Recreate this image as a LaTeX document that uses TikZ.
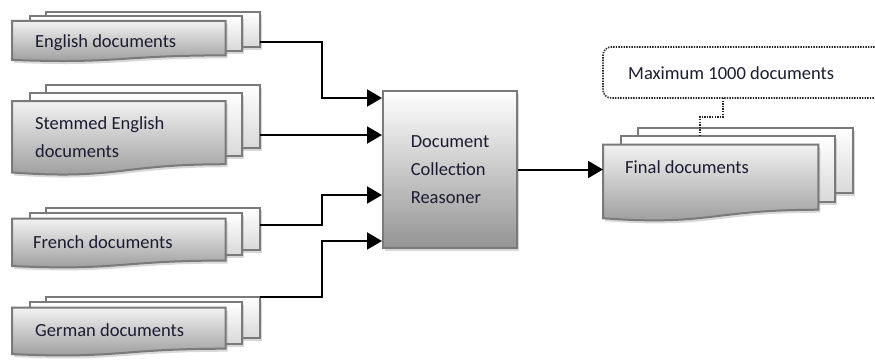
\documentclass[tikz,border=0pt]{standalone}
\usepackage{fontspec}
\setmainfont{Carlito}
\usetikzlibrary{shadows,arrows.meta,calc}
\definecolor{edgegray}{HTML}{7A7A7A}
\definecolor{txt}{HTML}{1C1C30}
\newcommand\lblfont{\fontsize{18.5}{28}\selectfont}
\tikzset{
  shad/.style={drop shadow={opacity=0.3, shadow xshift=2pt, shadow yshift=-3pt}},
  pageback/.style={draw=edgegray, line width=2pt, top color=white, bottom color=black!15, shad},
  pagefront/.style={draw=edgegray, line width=2pt, top color=black!5, bottom color=black!40, shad},
  procbox/.style={draw=edgegray, line width=2pt, top color=white, bottom color=black!42, shad,
    minimum width=134pt, minimum height=157pt, inner sep=0pt, align=left, font=\lblfont, text=txt},
  lbl/.style={font=\lblfont, text=txt, align=left, anchor=west, inner sep=0pt},
  conn/.style={draw=black, line width=2pt, -{Triangle[length=15pt,width=17pt]}},
  calloutbox/.style={draw=black!85, line width=1.6pt, dash pattern=on 1.4pt off 1.2pt, rounded corners=8pt},
  callline/.style={draw=black!85, line width=1.6pt, dash pattern=on 1.4pt off 1.2pt},
  anchorbox/.style={inner sep=0pt, outer sep=0pt, anchor=north west}
}
% #1 name, #2 x, #3 y, #4 W, #5 H
\newcommand\multidoc[5]{%
  \pgfmathsetmacro\bl{#2+0.138*#4}\pgfmathsetmacro\br{#2+#4}\pgfmathsetmacro\bb{#3+0.666*#5}%
  \pgfmathsetmacro\ml{#2+0.071*#4}\pgfmathsetmacro\mr{#2+0.926*#4}%
  \pgfmathsetmacro\mt{#3+0.084*#5}\pgfmathsetmacro\mb{#3+0.752*#5}%
  \pgfmathsetmacro\fr{#2+0.861*#4}\pgfmathsetmacro\ft{#3+0.170*#5}%
  \pgfmathsetmacro\frb{#3+0.834*#5}\pgfmathsetmacro\flb{#3+0.921*#5}%
  \pgfmathsetmacro\fm{#2+0.43*#4}\pgfmathsetmacro\fc{#3+1.0*#5}%
  \pgfmathsetmacro\bw{0.862*#4}\pgfmathsetmacro\bh{0.666*#5}%
  \pgfmathsetmacro\mw{0.855*#4}\pgfmathsetmacro\mh{0.668*#5}%
  \pgfmathsetmacro\fw{0.861*#4}\pgfmathsetmacro\fh{0.664*#5}%
  \path[pageback] (\bl,#3) rectangle (\br,\bb);
  \path[pageback] (\ml,\mt) rectangle (\mr,\mb);
  \path[pagefront] (#2,\ft) -- (\fr,\ft) -- (\fr,\frb)
     .. controls (\fm,\frb) and (\fm,\fc) .. (#2,\flb) -- cycle;
  \node[anchorbox, minimum width=\bw pt, minimum height=\bh pt] (#1) at (\bl,#3) {};
  \node[anchorbox, minimum width=\mw pt, minimum height=\mh pt] (#1m) at (\ml,\mt) {};
  \node[anchorbox, minimum width=\fw pt, minimum height=\fh pt] (#1f) at (#2,\ft) {};
}
\begin{document}
\begin{tikzpicture}[x=1pt,y=-1pt]
\useasboundingbox (0,0) rectangle (875,360);
\clip (0,0) rectangle (875,360);
\fill[white] (0,0) rectangle (875,360);

\multidoc{E}{12}{12}{248}{52}
\node[lbl] (tE) at (35,43) {English documents};
\multidoc{S}{12}{85}{248}{95}
\node[lbl] (tS) at (35,137) {Stemmed English\\documents};
\multidoc{R}{12}{208}{248}{63}
\node[lbl] (tR) at (33,242) {French documents};
\multidoc{G}{12}{297}{248}{62}
\node[lbl] (tG) at (35,330) {German documents};
\multidoc{F}{603}{128}{250}{98}
\node[lbl] (tF) at (625,167) {Final documents};

\node[procbox] (P) at (450,169.5) {Document\\Collection\\Reasoner};

\node[calloutbox, anchorbox, minimum width=290pt, minimum height=51pt] (C) at (603,47) {};
\node[lbl] (tC) at (628,73) {Maximum 1000 documents};

\coordinate (turn) at (322,0);
\coordinate (eS) at ([yshift=-29.7pt]E.north east);
\coordinate (sS) at ([yshift=-50pt]S.north east);
\coordinate (rS) at ([yshift=-17pt]R.north east);
\coordinate (gS) at (G.north east);
\coordinate (eT) at ([yshift=-8pt]P.north west);
\coordinate (rT) at ([yshift=-105pt]P.north west);
\coordinate (gT) at ([yshift=-151pt]P.north west);

\draw[conn] (eS) -- (eS -| turn) -- (turn |- eT) -- (eT);
\draw[conn] (sS) -- (sS -| P.west);
\draw[conn] (rS) -- (rS -| turn) -- (turn |- rT) -- (rT);
\draw[conn] (gS) -- (gS -| turn) -- (turn |- gT) -- (gT);
\draw[conn] (P.east) -- (P.east -| Ff.west);

\coordinate (cS) at ([xshift=120pt]C.south west);
\coordinate (cT) at ([xshift=79pt]Fm.north west);
\coordinate (cY) at (0,117);
\draw[callline] (cS) -- (cS |- cY) -- (cT |- cY) -- (cT);
\end{tikzpicture}
\end{document}
